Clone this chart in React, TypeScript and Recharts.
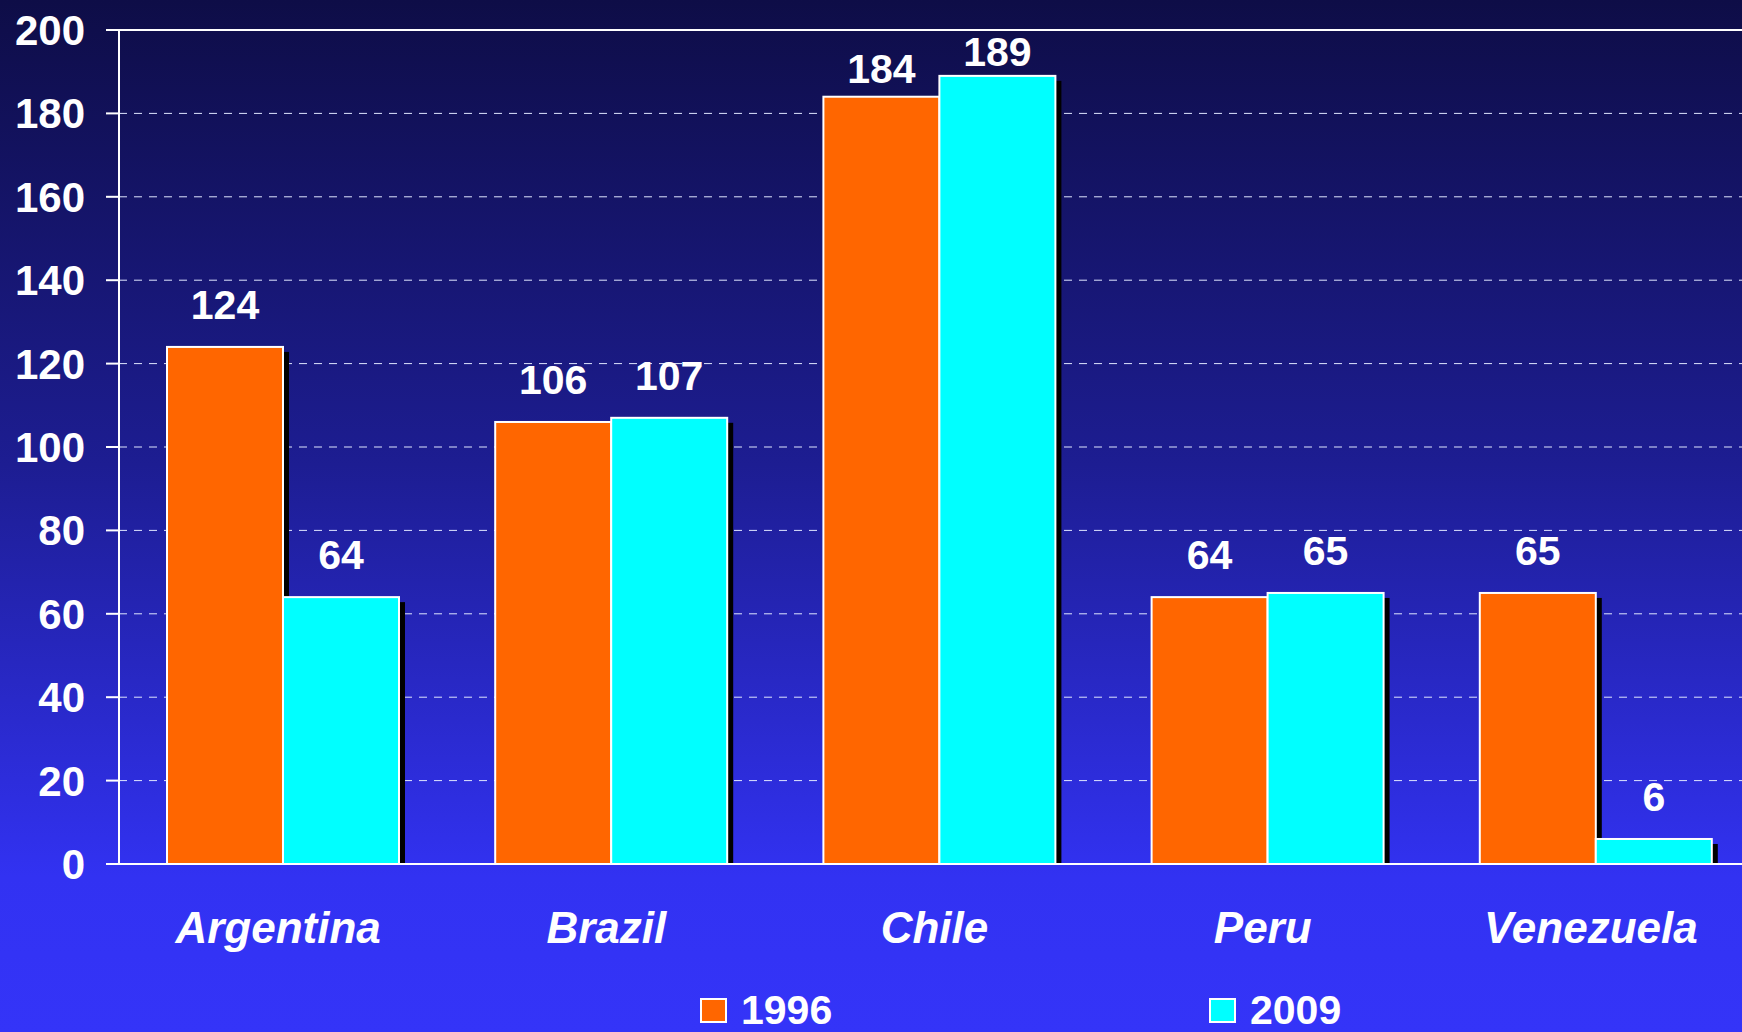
import React from "react";
import { BarChart, Bar, XAxis, YAxis, CartesianGrid, ReferenceLine, LabelList } from "recharts";

const countries = ["Argentina", "Brazil", "Chile", "Peru", "Venezuela"];
const values1996 = [124, 106, 184, 64, 65];
const values2009 = [64, 107, 189, 65, 6];
const yTicks = [0, 20, 40, 60, 80, 100, 120, 140, 160, 180, 200];
const seriesNames = ["1996", "2009"];
const seriesColors = ["#FF6600", "#00FFFF"];

// labels of the tallest bars sit closer to the bar top in the original
const labelGap: Record<string, number[]> = { Chile: [14, 10] };
const DEFAULT_GAP = 28;

const data = countries.map((c, i) => ({
  country: c,
  y1996: values1996[i],
  y2009: values2009[i],
}));

const FONT = "'Liberation Sans', Arial, sans-serif";

function ShadowBar(props: any) {
  const { x, y, width, height, fill } = props;
  if (!height || height <= 0) return null;
  return (
    <g>
      <rect x={x + 6} y={y + 5} width={width} height={Math.max(0, height - 5)} fill="#000" />
      <rect x={x} y={y} width={width} height={height} fill={fill} stroke="#fff" strokeWidth={2} />
    </g>
  );
}

function makeLabel(seriesIdx: number) {
  return (props: any) => {
    const { x, y, width, value, index } = props;
    const gap = labelGap[countries[index]]?.[seriesIdx] ?? DEFAULT_GAP;
    return (
      <text
        x={x + width / 2}
        y={y - gap}
        textAnchor="middle"
        fill="#fff"
        fontFamily={FONT}
        fontWeight="bold"
        fontSize={41}
      >
        {value}
      </text>
    );
  };
}

function CountryTick(props: any) {
  const { x, y, payload } = props;
  return (
    <text
      x={x - 5}
      y={y + 79}
      textAnchor="middle"
      fill="#fff"
      fontFamily={FONT}
      fontWeight="bold"
      fontStyle="italic"
      fontSize={44}
    >
      {payload.value}
    </text>
  );
}

export default function App() {
  return (
    <div
      style={{
        position: "absolute",
        left: 0,
        top: 0,
        width: 1742,
        height: 1032,
        overflow: "hidden",
        background: "linear-gradient(to bottom, #0e0d47 0%, #1d1d92 45%, #3232f2 85%, #3434f8 100%)",
      }}
    >
      <BarChart
        width={1780}
        height={1032}
        data={data}
        margin={{ top: 30, right: 20, bottom: 68, left: 0 }}
        barGap={0}
        barCategoryGap={48}
      >
        <CartesianGrid vertical={false} stroke="#dfe6ff" strokeDasharray="8 7" />
        <Bar dataKey="y1996" fill={seriesColors[0]} shape={ShadowBar} isAnimationActive={false}>
          <LabelList dataKey="y1996" content={makeLabel(0)} />
        </Bar>
        <Bar dataKey="y2009" fill={seriesColors[1]} shape={ShadowBar} isAnimationActive={false}>
          <LabelList dataKey="y2009" content={makeLabel(1)} />
        </Bar>
        <ReferenceLine y={200} stroke="#fff" strokeWidth={2} />
        <XAxis
          dataKey="country"
          height={100}
          tickLine={false}
          tickSize={0}
          tickMargin={0}
          axisLine={{ stroke: "#fff", strokeWidth: 2 }}
          tick={<CountryTick />}
          interval={0}
        />
        <YAxis
          width={119}
          domain={[0, 200]}
          ticks={yTicks}
          interval={0}
          tickSize={13}
          tickMargin={21}
          axisLine={{ stroke: "#fff", strokeWidth: 2 }}
          tickLine={{ stroke: "#fff", strokeWidth: 2 }}
          tick={{ fill: "#fff", fontFamily: FONT, fontWeight: "bold", fontSize: 42 }}
        />
      </BarChart>
      <svg
        width={1742}
        height={1032}
        style={{ position: "absolute", left: 0, top: 0, pointerEvents: "none" }}
      >
        {seriesNames.map((name, i) => {
          const left = i === 0 ? 701 : 1210;
          return (
            <g key={name}>
              <rect x={left} y={999} width={25} height={23} fill={seriesColors[i]} stroke="#fff" strokeWidth={2} />
              <text
                x={left + 40}
                y={1024}
                fill="#fff"
                fontFamily={FONT}
                fontWeight="bold"
                fontSize={41}
              >
                {name}
              </text>
            </g>
          );
        })}
      </svg>
    </div>
  );
}
